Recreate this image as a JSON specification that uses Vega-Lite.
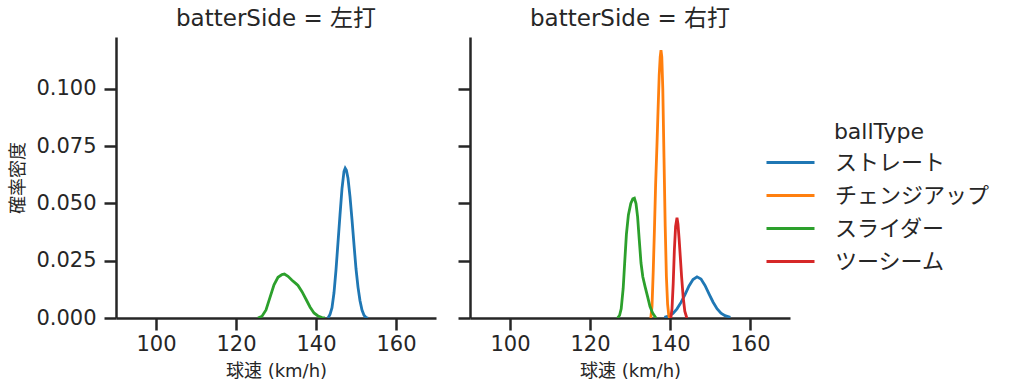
{
  "$schema": "https://vega.github.io/schema/vega-lite/v6.json",
  "padding": {"left": 9, "top": 8, "right": 5, "bottom": 5},
  "config": {
    "font": "DejaVu Sans, Noto Sans CJK JP",
    "view": {"stroke": null},
    "axis": {
      "domainColor": "#262626", "domainWidth": 2.5, "tickColor": "#262626", "tickWidth": 2.5, "tickSize": 12,
      "labelFontSize": 21, "labelColor": "#262626", "titleFontSize": 18, "titleFontWeight": "normal", "titleColor": "#262626", "grid": false
    },
    "title": {"fontSize": 23, "fontWeight": "normal", "color": "#262626", "offset": 6, "frame": "group"},
    "legend": {"labelFontSize": 22, "titleFontSize": 22, "titleFontWeight": "normal", "labelColor": "#262626", "titleColor": "#262626"}
  },
  "data": {"values": [
    {"s":"左打","t":"ストレート","x":143.0,"y":0.0},
    {"s":"左打","t":"ストレート","x":143.5,"y":0.0015},
    {"s":"左打","t":"ストレート","x":144.0,"y":0.0045},
    {"s":"左打","t":"ストレート","x":144.5,"y":0.011},
    {"s":"左打","t":"ストレート","x":145.0,"y":0.021},
    {"s":"左打","t":"ストレート","x":145.5,"y":0.033},
    {"s":"左打","t":"ストレート","x":146.0,"y":0.045},
    {"s":"左打","t":"ストレート","x":146.5,"y":0.0565},
    {"s":"左打","t":"ストレート","x":147.0,"y":0.064},
    {"s":"左打","t":"ストレート","x":147.3,"y":0.0654},
    {"s":"左打","t":"ストレート","x":147.6,"y":0.0645},
    {"s":"左打","t":"ストレート","x":148.0,"y":0.061},
    {"s":"左打","t":"ストレート","x":148.5,"y":0.053},
    {"s":"左打","t":"ストレート","x":149.0,"y":0.043},
    {"s":"左打","t":"ストレート","x":149.5,"y":0.032},
    {"s":"左打","t":"ストレート","x":150.0,"y":0.0215},
    {"s":"左打","t":"ストレート","x":150.5,"y":0.0135},
    {"s":"左打","t":"ストレート","x":151.0,"y":0.0075},
    {"s":"左打","t":"ストレート","x":151.5,"y":0.0035},
    {"s":"左打","t":"ストレート","x":152.0,"y":0.0012},
    {"s":"左打","t":"ストレート","x":152.5,"y":0.0002},
    {"s":"左打","t":"ストレート","x":153.0,"y":0.0},
    {"s":"左打","t":"スライダー","x":125.5,"y":0.0},
    {"s":"左打","t":"スライダー","x":126.5,"y":0.0008},
    {"s":"左打","t":"スライダー","x":127.5,"y":0.0035},
    {"s":"左打","t":"スライダー","x":128.5,"y":0.009},
    {"s":"左打","t":"スライダー","x":129.5,"y":0.0145},
    {"s":"左打","t":"スライダー","x":130.5,"y":0.0178},
    {"s":"左打","t":"スライダー","x":131.5,"y":0.019},
    {"s":"左打","t":"スライダー","x":132.1,"y":0.0192},
    {"s":"左打","t":"スライダー","x":133.0,"y":0.0182},
    {"s":"左打","t":"スライダー","x":134.0,"y":0.0165},
    {"s":"左打","t":"スライダー","x":135.0,"y":0.015},
    {"s":"左打","t":"スライダー","x":135.5,"y":0.0142},
    {"s":"左打","t":"スライダー","x":136.5,"y":0.0115},
    {"s":"左打","t":"スライダー","x":137.5,"y":0.0082},
    {"s":"左打","t":"スライダー","x":138.5,"y":0.0048},
    {"s":"左打","t":"スライダー","x":139.5,"y":0.0022},
    {"s":"左打","t":"スライダー","x":140.5,"y":0.0009},
    {"s":"左打","t":"スライダー","x":141.5,"y":0.0002},
    {"s":"左打","t":"スライダー","x":142.2,"y":0.0},
    {"s":"右打","t":"ストレート","x":138.6,"y":0.0003},
    {"s":"右打","t":"ストレート","x":139.75,"y":0.0009},
    {"s":"右打","t":"ストレート","x":140.75,"y":0.002},
    {"s":"右打","t":"ストレート","x":141.75,"y":0.004},
    {"s":"右打","t":"ストレート","x":142.75,"y":0.0068},
    {"s":"右打","t":"ストレート","x":143.75,"y":0.0102},
    {"s":"右打","t":"ストレート","x":144.75,"y":0.014},
    {"s":"右打","t":"ストレート","x":145.75,"y":0.0168},
    {"s":"右打","t":"ストレート","x":146.75,"y":0.018},
    {"s":"右打","t":"ストレート","x":147.75,"y":0.017},
    {"s":"右打","t":"ストレート","x":148.75,"y":0.0142},
    {"s":"右打","t":"ストレート","x":149.75,"y":0.0105},
    {"s":"右打","t":"ストレート","x":150.75,"y":0.007},
    {"s":"右打","t":"ストレート","x":151.75,"y":0.0041},
    {"s":"右打","t":"ストレート","x":152.75,"y":0.0021},
    {"s":"右打","t":"ストレート","x":153.75,"y":0.001},
    {"s":"右打","t":"ストレート","x":155.1,"y":0.0003},
    {"s":"右打","t":"チェンジアップ","x":135.2,"y":0.0},
    {"s":"右打","t":"チェンジアップ","x":135.5,"y":0.005},
    {"s":"右打","t":"チェンジアップ","x":135.8,"y":0.02},
    {"s":"右打","t":"チェンジアップ","x":136.1,"y":0.038},
    {"s":"右打","t":"チェンジアップ","x":136.4,"y":0.058},
    {"s":"右打","t":"チェンジアップ","x":136.75,"y":0.076},
    {"s":"右打","t":"チェンジアップ","x":137.0,"y":0.09},
    {"s":"右打","t":"チェンジアップ","x":137.3,"y":0.106},
    {"s":"右打","t":"チェンジアップ","x":137.55,"y":0.114},
    {"s":"右打","t":"チェンジアップ","x":137.75,"y":0.117},
    {"s":"右打","t":"チェンジアップ","x":137.95,"y":0.114},
    {"s":"右打","t":"チェンジアップ","x":138.2,"y":0.1},
    {"s":"右打","t":"チェンジアップ","x":138.5,"y":0.07},
    {"s":"右打","t":"チェンジアップ","x":138.8,"y":0.04},
    {"s":"右打","t":"チェンジアップ","x":139.1,"y":0.018},
    {"s":"右打","t":"チェンジアップ","x":139.4,"y":0.006},
    {"s":"右打","t":"チェンジアップ","x":139.7,"y":0.001},
    {"s":"右打","t":"チェンジアップ","x":139.9,"y":0.0},
    {"s":"右打","t":"スライダー","x":126.9,"y":0.0},
    {"s":"右打","t":"スライダー","x":127.4,"y":0.0012},
    {"s":"右打","t":"スライダー","x":127.8,"y":0.004},
    {"s":"右打","t":"スライダー","x":128.3,"y":0.013},
    {"s":"右打","t":"スライダー","x":128.7,"y":0.025},
    {"s":"右打","t":"スライダー","x":129.1,"y":0.0365},
    {"s":"右打","t":"スライダー","x":129.6,"y":0.045},
    {"s":"右打","t":"スライダー","x":130.2,"y":0.05},
    {"s":"右打","t":"スライダー","x":130.7,"y":0.052},
    {"s":"右打","t":"スライダー","x":131.1,"y":0.0523},
    {"s":"右打","t":"スライダー","x":131.5,"y":0.05},
    {"s":"右打","t":"スライダー","x":131.9,"y":0.0442},
    {"s":"右打","t":"スライダー","x":132.3,"y":0.0345},
    {"s":"右打","t":"スライダー","x":132.75,"y":0.024},
    {"s":"右打","t":"スライダー","x":133.2,"y":0.018},
    {"s":"右打","t":"スライダー","x":133.8,"y":0.0135},
    {"s":"右打","t":"スライダー","x":134.4,"y":0.0093},
    {"s":"右打","t":"スライダー","x":135.0,"y":0.005},
    {"s":"右打","t":"スライダー","x":135.7,"y":0.002},
    {"s":"右打","t":"スライダー","x":136.5,"y":0.0},
    {"s":"右打","t":"ツーシーム","x":140.2,"y":0.0},
    {"s":"右打","t":"ツーシーム","x":140.5,"y":0.004},
    {"s":"右打","t":"ツーシーム","x":140.8,"y":0.015},
    {"s":"右打","t":"ツーシーム","x":141.1,"y":0.03},
    {"s":"右打","t":"ツーシーム","x":141.4,"y":0.04},
    {"s":"右打","t":"ツーシーム","x":141.75,"y":0.0438},
    {"s":"右打","t":"ツーシーム","x":142.0,"y":0.041},
    {"s":"右打","t":"ツーシーム","x":142.3,"y":0.034},
    {"s":"右打","t":"ツーシーム","x":142.6,"y":0.026},
    {"s":"右打","t":"ツーシーム","x":142.9,"y":0.018},
    {"s":"右打","t":"ツーシーム","x":143.3,"y":0.009},
    {"s":"右打","t":"ツーシーム","x":143.7,"y":0.003},
    {"s":"右打","t":"ツーシーム","x":144.2,"y":0.0}
  ]},
  "spacing": 20,
  "hconcat": [
    {
      "title": "batterSide = 左打",
      "width": 320, "height": 281,
      "transform": [{"filter": "datum.s === '左打'"}],
      "mark": {"type": "line", "strokeWidth": 2.8, "clip": true},
      "encoding": {
        "x": {"field": "x", "type": "quantitative", "title": "球速 (km/h)",
              "scale": {"domain": [90, 170], "nice": false, "zero": false},
              "axis": {"values": [100, 120, 140, 160], "labelPadding": 3, "titlePadding": 8}},
        "y": {"field": "y", "type": "quantitative", "title": "確率密度",
              "scale": {"domain": [0, 0.1227], "nice": false},
              "axis": {"values": [0, 0.025, 0.05, 0.075, 0.1], "format": ".3f", "labelPadding": 8, "titlePadding": 8}},
        "color": {"field": "t", "type": "nominal", "title": "ballType",
                  "scale": {"domain": ["ストレート", "チェンジアップ", "スライダー", "ツーシーム"], "range": ["#1f77b4", "#ff7f0e", "#2ca02c", "#d62728"]},
                  "legend": {"orient": "none", "legendX": 653, "legendY": 85, "symbolType": "M-1.2,0H1.2", "symbolSize": 1600, "symbolStrokeWidth": 3, "labelOffset": 23, "rowPadding": 0, "titlePadding": -3, "titleAnchor": "middle"}}
      }
    },
    {
      "title": "batterSide = 右打",
      "width": 320, "height": 281,
      "transform": [{"filter": "datum.s === '右打'"}],
      "mark": {"type": "line", "strokeWidth": 2.8, "clip": true},
      "encoding": {
        "x": {"field": "x", "type": "quantitative", "title": "球速 (km/h)",
              "scale": {"domain": [90, 170], "nice": false, "zero": false},
              "axis": {"values": [100, 120, 140, 160], "labelPadding": 3, "titlePadding": 8}},
        "y": {"field": "y", "type": "quantitative", "title": null,
              "scale": {"domain": [0, 0.1227], "nice": false},
              "axis": {"values": [0, 0.025, 0.05, 0.075, 0.1], "labels": false}},
        "color": {"field": "t", "type": "nominal", "title": "ballType"}
      }
    }
  ]
}
